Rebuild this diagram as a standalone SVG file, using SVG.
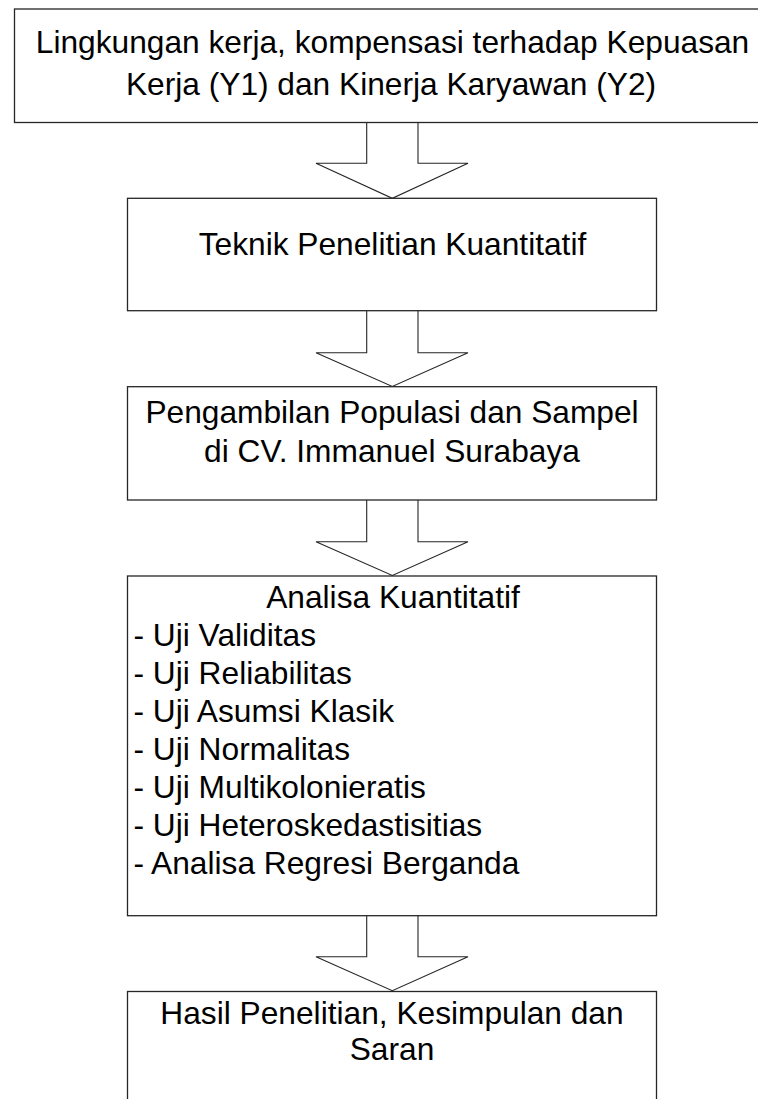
<svg xmlns="http://www.w3.org/2000/svg" width="758" height="1099" viewBox="0 0 758 1099">
<style>
.box{fill:#fff;stroke:#262626;stroke-width:1.3}
.arr{fill:#fff;stroke:#262626;stroke-width:1.1;stroke-linejoin:miter}
text{font-family:"Liberation Sans",Arial,sans-serif;font-size:31.7px;fill:#000}
.c{text-anchor:middle}
</style>
<rect width="758" height="1099" fill="#fff"/>
<g id="connectors">
<path class="arr" d="M366.7,122.5 V163.3 H316 L392.3,198.3 L468,163.3 H418 V122.5"/>
<path class="arr" d="M366.7,310.7 V352.7 H316 L392.3,386.5 L468,352.7 H418 V310.7"/>
<path class="arr" d="M366.7,500 V541.7 H316 L392.3,575.5 L468,541.7 H418 V500"/>
<path class="arr" d="M366.7,915.7 V956.7 H316 L392.3,990.7 L468,956.7 H418 V915.7"/>
</g>
<g id="node1">
<rect class="box" x="14.5" y="9" width="756" height="113.5"/>
<text class="c" x="392.5" y="52.5">Lingkungan kerja, kompensasi terhadap Kepuasan</text>
<text class="c" x="391" y="95">Kerja (Y1) dan Kinerja Karyawan (Y2)</text>
</g>
<g id="node2">
<rect class="box" x="127.5" y="198.3" width="529" height="112.4"/>
<text class="c" x="392.5" y="255">Teknik Penelitian Kuantitatif</text>
</g>
<g id="node3">
<rect class="box" x="127.5" y="386.7" width="529" height="113.3"/>
<text class="c" x="392" y="423">Pengambilan Populasi dan Sampel</text>
<text class="c" x="392" y="461.5">di CV. Immanuel Surabaya</text>
</g>
<g id="node4">
<rect class="box" x="127.5" y="576" width="529" height="339.7"/>
<text class="c" x="393" y="608">Analisa Kuantitatif</text>
<text x="133.5" y="646">- Uji Validitas</text>
<text x="133.5" y="684">- Uji Reliabilitas</text>
<text x="133.5" y="722">- Uji Asumsi Klasik</text>
<text x="133.5" y="760">- Uji Normalitas</text>
<text x="133.5" y="798">- Uji Multikolonieratis</text>
<text x="133.5" y="836">- Uji Heteroskedastisitias</text>
<text x="133.5" y="874">- Analisa Regresi Berganda</text>
</g>
<g id="node5">
<rect class="box" x="127.5" y="991.5" width="529" height="140"/>
<text class="c" x="392" y="1024">Hasil Penelitian, Kesimpulan dan</text>
<text class="c" x="392" y="1060">Saran</text>
</g>
</svg>
